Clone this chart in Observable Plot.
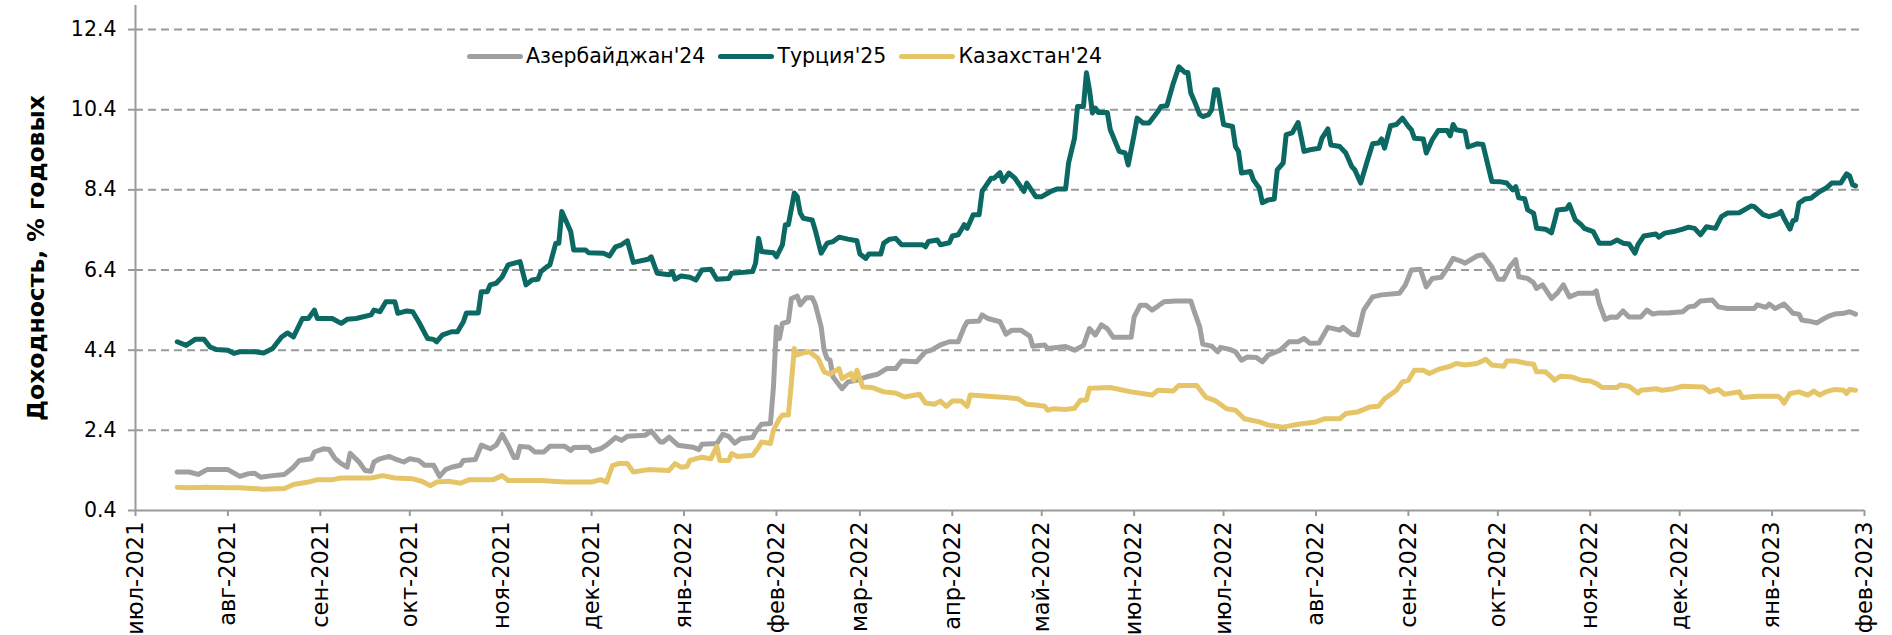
<!DOCTYPE html>
<html>
<head>
<meta charset="utf-8">
<script src="https://cdn.jsdelivr.net/npm/d3@7"></script>
<script src="https://cdn.jsdelivr.net/npm/@observablehq/plot@0.6"></script>
<style>
  html, body { margin: 0; padding: 0; background: #fff; }
  #wrap { position: relative; width: 1892px; height: 635px; font-family: "DejaVu Sans", Verdana, sans-serif; }
  #legend { position: absolute; left: 467px; top: 44px; display: flex; align-items: center; font-size: 20.5px; line-height: 24px; color: #000; white-space: nowrap; }
  .item { display: flex; align-items: center; margin-right: 13px; }
  .sw { width: 56px; height: 5px; border-radius: 3px; margin-right: 3px; }
</style>
</head>
<body>
<div id="wrap"><div id="legend"></div></div>
<script>
// ---- data ----
const seriesNames = ["Азербайджан'24", "Турция'25", "Казахстан'24"];
const yTitle = "Доходность, % годовых";
const monthNames = ["янв","фев","мар","апр","май","июн","июл","авг","сен","окт","ноя","дек"];
const yTicks = [0.4, 2.4, 4.4, 6.4, 8.4, 10.4, 12.4];
const xStart = "2021-07-01", xEnd = "2023-02-01";

const azerbaijan24 = [
["2021-07-15",1.36],["2021-07-19",1.36],["2021-07-22",1.30],["2021-07-25",1.42],["2021-08-01",1.42],["2021-08-05",1.25],["2021-08-08",1.32],["2021-08-10",1.33],["2021-08-12",1.23],["2021-08-16",1.27],["2021-08-20",1.30],["2021-08-23",1.48],["2021-08-25",1.65],["2021-08-29",1.69],["2021-08-30",1.86],["2021-09-02",1.94],["2021-09-04",1.92],["2021-09-06",1.69],["2021-09-08",1.57],["2021-09-10",1.48],["2021-09-11",1.83],["2021-09-14",1.61],["2021-09-16",1.40],["2021-09-18",1.38],["2021-09-19",1.61],["2021-09-21",1.69],["2021-09-24",1.75],["2021-09-26",1.69],["2021-09-29",1.61],["2021-10-01",1.69],["2021-10-04",1.65],["2021-10-06",1.53],["2021-10-09",1.53],["2021-10-11",1.25],["2021-10-13",1.42],["2021-10-15",1.48],["2021-10-18",1.53],["2021-10-19",1.65],["2021-10-23",1.67],["2021-10-25",2.03],["2021-10-28",1.94],["2021-10-30",2.03],["2021-11-01",2.30],["2021-11-03",2.03],["2021-11-05",1.72],["2021-11-06",1.72],["2021-11-07",2.00],["2021-11-10",1.98],["2021-11-12",1.86],["2021-11-15",1.86],["2021-11-17",2.00],["2021-11-22",2.00],["2021-11-24",1.90],["2021-11-25",1.97],["2021-11-30",1.98],["2021-12-01",1.88],["2021-12-04",1.94],["2021-12-06",2.03],["2021-12-09",2.22],["2021-12-11",2.15],["2021-12-13",2.25],["2021-12-19",2.28],["2021-12-21",2.38],["2021-12-24",2.11],["2021-12-25",2.11],["2021-12-27",2.23],["2021-12-30",2.03],["2022-01-04",1.98],["2022-01-06",1.92],["2022-01-07",2.05],["2022-01-12",2.07],["2022-01-14",2.30],["2022-01-16",2.25],["2022-01-18",2.08],["2022-01-20",2.19],["2022-01-24",2.22],["2022-01-25",2.36],["2022-01-27",2.55],["2022-01-30",2.57],["2022-01-31",3.48],["2022-02-01",4.98],["2022-02-02",4.69],["2022-02-03",5.07],["2022-02-05",5.11],["2022-02-06",5.69],["2022-02-08",5.75],["2022-02-09",5.53],["2022-02-11",5.71],["2022-02-13",5.71],["2022-02-14",5.55],["2022-02-16",4.98],["2022-02-17",4.40],["2022-02-18",4.19],["2022-02-19",4.15],["2022-02-20",3.73],["2022-02-23",3.44],["2022-02-25",3.61],["2022-02-28",3.65],["2022-03-03",3.73],["2022-03-07",3.80],["2022-03-10",3.94],["2022-03-13",3.94],["2022-03-15",4.13],["2022-03-20",4.11],["2022-03-23",4.36],["2022-03-25",4.40],["2022-03-28",4.53],["2022-03-31",4.61],["2022-04-03",4.61],["2022-04-05",4.98],["2022-04-06",5.11],["2022-04-10",5.13],["2022-04-11",5.28],["2022-04-13",5.19],["2022-04-17",5.11],["2022-04-19",4.80],["2022-04-21",4.90],["2022-04-24",4.90],["2022-04-27",4.75],["2022-04-28",4.50],["2022-05-02",4.53],["2022-05-03",4.44],["2022-05-09",4.49],["2022-05-12",4.40],["2022-05-15",4.52],["2022-05-17",4.94],["2022-05-19",4.78],["2022-05-21",5.03],["2022-05-23",4.94],["2022-05-25",4.72],["2022-05-31",4.72],["2022-06-01",5.23],["2022-06-03",5.52],["2022-06-05",5.52],["2022-06-07",5.40],["2022-06-09",5.50],["2022-06-11",5.61],["2022-06-15",5.63],["2022-06-20",5.63],["2022-06-21",5.40],["2022-06-23",4.98],["2022-06-24",4.55],["2022-06-27",4.50],["2022-06-29",4.36],["2022-06-30",4.47],["2022-07-03",4.42],["2022-07-05",4.36],["2022-07-07",4.15],["2022-07-09",4.23],["2022-07-12",4.22],["2022-07-14",4.11],["2022-07-16",4.28],["2022-07-20",4.40],["2022-07-23",4.61],["2022-07-26",4.61],["2022-07-28",4.69],["2022-07-30",4.57],["2022-08-02",4.58],["2022-08-05",4.97],["2022-08-09",4.90],["2022-08-10",4.97],["2022-08-13",4.80],["2022-08-15",4.78],["2022-08-17",5.40],["2022-08-20",5.73],["2022-08-23",5.78],["2022-08-29",5.82],["2022-08-31",6.03],["2022-09-02",6.40],["2022-09-05",6.42],["2022-09-07",5.98],["2022-09-09",6.19],["2022-09-12",6.22],["2022-09-14",6.44],["2022-09-16",6.69],["2022-09-19",6.61],["2022-09-20",6.57],["2022-09-24",6.75],["2022-09-26",6.78],["2022-09-29",6.48],["2022-10-01",6.17],["2022-10-03",6.17],["2022-10-05",6.48],["2022-10-07",6.66],["2022-10-08",6.23],["2022-10-11",6.19],["2022-10-13",6.08],["2022-10-14",5.94],["2022-10-16",6.03],["2022-10-19",5.69],["2022-10-21",5.83],["2022-10-23",6.03],["2022-10-25",5.73],["2022-10-28",5.82],["2022-11-02",5.82],["2022-11-03",5.88],["2022-11-04",5.57],["2022-11-06",5.17],["2022-11-08",5.23],["2022-11-10",5.22],["2022-11-12",5.38],["2022-11-14",5.23],["2022-11-18",5.23],["2022-11-20",5.40],["2022-11-22",5.30],["2022-11-24",5.33],["2022-11-27",5.33],["2022-12-02",5.36],["2022-12-04",5.48],["2022-12-06",5.50],["2022-12-08",5.63],["2022-12-12",5.65],["2022-12-14",5.48],["2022-12-17",5.44],["2022-12-26",5.44],["2022-12-27",5.53],["2022-12-30",5.47],["2022-12-31",5.55],["2023-01-02",5.44],["2023-01-05",5.55],["2023-01-07",5.40],["2023-01-08",5.32],["2023-01-10",5.30],["2023-01-11",5.15],["2023-01-13",5.13],["2023-01-16",5.08],["2023-01-18",5.17],["2023-01-20",5.25],["2023-01-22",5.30],["2023-01-25",5.32],["2023-01-27",5.36],["2023-01-29",5.30]
];

const turkey25 = [
["2021-07-15",4.61],["2021-07-18",4.52],["2021-07-21",4.67],["2021-07-24",4.67],["2021-07-26",4.48],["2021-07-28",4.42],["2021-08-01",4.40],["2021-08-03",4.32],["2021-08-05",4.36],["2021-08-10",4.36],["2021-08-13",4.33],["2021-08-16",4.44],["2021-08-19",4.73],["2021-08-21",4.83],["2021-08-23",4.73],["2021-08-26",5.19],["2021-08-28",5.19],["2021-08-30",5.40],["2021-08-31",5.19],["2021-09-05",5.19],["2021-09-08",5.07],["2021-09-10",5.17],["2021-09-13",5.19],["2021-09-18",5.28],["2021-09-19",5.40],["2021-09-21",5.36],["2021-09-23",5.61],["2021-09-26",5.61],["2021-09-27",5.32],["2021-09-30",5.38],["2021-10-02",5.36],["2021-10-04",5.11],["2021-10-07",4.69],["2021-10-09",4.67],["2021-10-10",4.61],["2021-10-12",4.78],["2021-10-15",4.86],["2021-10-17",4.86],["2021-10-19",5.11],["2021-10-20",5.33],["2021-10-24",5.33],["2021-10-25",5.86],["2021-10-27",5.86],["2021-10-28",6.03],["2021-10-30",6.07],["2021-11-01",6.23],["2021-11-03",6.53],["2021-11-07",6.61],["2021-11-09",6.03],["2021-11-11",6.15],["2021-11-13",6.17],["2021-11-14",6.36],["2021-11-16",6.48],["2021-11-17",6.53],["2021-11-19",7.07],["2021-11-20",7.07],["2021-11-21",7.86],["2021-11-24",7.36],["2021-11-25",6.90],["2021-11-29",6.90],["2021-11-30",6.83],["2021-12-05",6.82],["2021-12-07",6.75],["2021-12-09",6.98],["2021-12-11",7.03],["2021-12-13",7.13],["2021-12-15",6.59],["2021-12-20",6.67],["2021-12-21",6.73],["2021-12-23",6.32],["2021-12-27",6.28],["2021-12-28",6.36],["2021-12-29",6.17],["2021-12-31",6.25],["2022-01-03",6.22],["2022-01-05",6.15],["2022-01-07",6.40],["2022-01-10",6.42],["2022-01-12",6.17],["2022-01-16",6.19],["2022-01-17",6.32],["2022-01-24",6.36],["2022-01-25",6.57],["2022-01-26",7.19],["2022-01-27",6.86],["2022-01-31",6.83],["2022-02-01",6.73],["2022-02-03",7.03],["2022-02-04",7.53],["2022-02-05",7.53],["2022-02-07",8.32],["2022-02-08",8.23],["2022-02-09",7.82],["2022-02-10",7.69],["2022-02-13",7.65],["2022-02-14",7.40],["2022-02-16",6.82],["2022-02-18",7.07],["2022-02-20",7.11],["2022-02-22",7.22],["2022-02-25",7.17],["2022-02-28",7.13],["2022-03-01",6.80],["2022-03-03",6.69],["2022-03-04",6.80],["2022-03-08",6.80],["2022-03-09",7.07],["2022-03-11",7.17],["2022-03-13",7.19],["2022-03-15",7.03],["2022-03-22",7.03],["2022-03-23",6.98],["2022-03-24",7.11],["2022-03-27",7.15],["2022-03-28",7.03],["2022-03-31",7.08],["2022-04-01",7.25],["2022-04-03",7.28],["2022-04-05",7.53],["2022-04-06",7.44],["2022-04-08",7.78],["2022-04-10",7.78],["2022-04-11",8.36],["2022-04-14",8.69],["2022-04-15",8.69],["2022-04-17",8.83],["2022-04-18",8.61],["2022-04-20",8.82],["2022-04-22",8.69],["2022-04-25",8.36],["2022-04-26",8.57],["2022-04-29",8.23],["2022-05-01",8.23],["2022-05-04",8.36],["2022-05-06",8.42],["2022-05-09",8.42],["2022-05-10",9.07],["2022-05-12",9.69],["2022-05-13",10.48],["2022-05-15",10.48],["2022-05-16",11.32],["2022-05-17",10.90],["2022-05-18",10.32],["2022-05-19",10.44],["2022-05-20",10.33],["2022-05-23",10.33],["2022-05-24",9.90],["2022-05-27",9.36],["2022-05-29",9.32],["2022-05-30",9.02],["2022-06-01",9.78],["2022-06-02",10.19],["2022-06-04",10.07],["2022-06-06",10.07],["2022-06-09",10.36],["2022-06-10",10.48],["2022-06-12",10.50],["2022-06-14",11.03],["2022-06-16",11.47],["2022-06-18",11.33],["2022-06-19",11.33],["2022-06-20",10.82],["2022-06-21",10.65],["2022-06-23",10.28],["2022-06-24",10.23],["2022-06-26",10.28],["2022-06-27",10.40],["2022-06-28",10.90],["2022-06-29",10.90],["2022-07-01",10.03],["2022-07-04",9.98],["2022-07-05",9.48],["2022-07-06",9.36],["2022-07-07",8.82],["2022-07-10",8.86],["2022-07-11",8.65],["2022-07-13",8.44],["2022-07-14",8.08],["2022-07-16",8.15],["2022-07-18",8.17],["2022-07-19",8.90],["2022-07-21",9.07],["2022-07-22",9.78],["2022-07-24",9.82],["2022-07-26",10.08],["2022-07-27",9.73],["2022-07-28",9.36],["2022-07-30",9.40],["2022-08-02",9.44],["2022-08-03",9.69],["2022-08-05",9.92],["2022-08-06",9.52],["2022-08-09",9.48],["2022-08-11",9.32],["2022-08-13",8.98],["2022-08-14",8.90],["2022-08-16",8.57],["2022-08-18",9.07],["2022-08-20",9.55],["2022-08-22",9.57],["2022-08-23",9.67],["2022-08-24",9.44],["2022-08-26",10.00],["2022-08-28",10.03],["2022-08-30",10.19],["2022-09-01",9.98],["2022-09-02",9.90],["2022-09-03",9.69],["2022-09-06",9.67],["2022-09-07",9.32],["2022-09-09",9.65],["2022-09-11",9.88],["2022-09-14",9.88],["2022-09-15",9.75],["2022-09-16",10.03],["2022-09-17",9.90],["2022-09-20",9.86],["2022-09-21",9.47],["2022-09-24",9.55],["2022-09-26",9.53],["2022-09-29",8.61],["2022-10-02",8.60],["2022-10-04",8.57],["2022-10-06",8.40],["2022-10-07",8.48],["2022-10-08",8.20],["2022-10-10",8.18],["2022-10-11",7.90],["2022-10-13",7.82],["2022-10-14",7.44],["2022-10-17",7.42],["2022-10-19",7.33],["2022-10-20",7.61],["2022-10-21",7.90],["2022-10-24",7.92],["2022-10-25",8.03],["2022-10-27",7.65],["2022-10-29",7.53],["2022-10-30",7.44],["2022-11-02",7.36],["2022-11-04",7.07],["2022-11-08",7.07],["2022-11-10",7.15],["2022-11-12",7.07],["2022-11-14",7.05],["2022-11-16",6.82],["2022-11-17",7.03],["2022-11-19",7.25],["2022-11-23",7.30],["2022-11-24",7.22],["2022-11-26",7.32],["2022-11-29",7.36],["2022-12-02",7.42],["2022-12-04",7.47],["2022-12-06",7.44],["2022-12-08",7.28],["2022-12-10",7.48],["2022-12-13",7.44],["2022-12-15",7.73],["2022-12-17",7.82],["2022-12-21",7.83],["2022-12-25",8.00],["2022-12-26",7.98],["2022-12-29",7.78],["2022-12-31",7.73],["2023-01-03",7.80],["2023-01-04",7.86],["2023-01-05",7.69],["2023-01-07",7.42],["2023-01-08",7.63],["2023-01-09",7.65],["2023-01-10",8.07],["2023-01-12",8.17],["2023-01-14",8.19],["2023-01-17",8.36],["2023-01-19",8.44],["2023-01-21",8.57],["2023-01-24",8.57],["2023-01-26",8.80],["2023-01-27",8.75],["2023-01-28",8.53],["2023-01-29",8.50]
];

const kazakhstan24 = [
["2021-07-15",0.98],["2021-07-19",0.97],["2021-07-25",0.98],["2021-08-01",0.97],["2021-08-05",0.97],["2021-08-13",0.93],["2021-08-20",0.95],["2021-08-23",1.05],["2021-08-28",1.11],["2021-08-31",1.17],["2021-09-05",1.17],["2021-09-08",1.21],["2021-09-18",1.21],["2021-09-22",1.27],["2021-09-26",1.21],["2021-10-02",1.19],["2021-10-05",1.13],["2021-10-08",1.02],["2021-10-10",1.11],["2021-10-14",1.13],["2021-10-18",1.08],["2021-10-21",1.17],["2021-10-29",1.17],["2021-11-01",1.27],["2021-11-03",1.15],["2021-11-14",1.15],["2021-11-22",1.11],["2021-12-01",1.11],["2021-12-04",1.17],["2021-12-06",1.11],["2021-12-08",1.52],["2021-12-10",1.57],["2021-12-13",1.57],["2021-12-15",1.36],["2021-12-20",1.42],["2021-12-27",1.40],["2021-12-29",1.57],["2021-12-31",1.48],["2022-01-02",1.50],["2022-01-03",1.65],["2022-01-07",1.73],["2022-01-10",1.69],["2022-01-12",2.00],["2022-01-13",1.65],["2022-01-16",1.65],["2022-01-17",1.82],["2022-01-19",1.75],["2022-01-24",1.78],["2022-01-26",1.98],["2022-01-27",2.11],["2022-01-30",2.07],["2022-01-31",2.40],["2022-02-02",2.69],["2022-02-03",2.78],["2022-02-05",2.78],["2022-02-06",3.57],["2022-02-07",4.44],["2022-02-08",4.28],["2022-02-10",4.33],["2022-02-12",4.36],["2022-02-15",4.19],["2022-02-17",3.86],["2022-02-19",3.80],["2022-02-22",3.94],["2022-02-23",3.69],["2022-02-26",3.82],["2022-02-27",3.65],["2022-02-28",3.90],["2022-03-02",3.48],["2022-03-05",3.47],["2022-03-09",3.36],["2022-03-13",3.33],["2022-03-16",3.23],["2022-03-21",3.30],["2022-03-23",3.08],["2022-03-26",3.05],["2022-03-28",3.13],["2022-03-30",3.00],["2022-04-01",3.13],["2022-04-04",3.13],["2022-04-06",3.00],["2022-04-07",3.28],["2022-04-13",3.25],["2022-04-19",3.22],["2022-04-23",3.19],["2022-04-26",3.05],["2022-04-29",3.03],["2022-05-02",3.00],["2022-05-03",2.90],["2022-05-05",2.94],["2022-05-09",2.92],["2022-05-12",2.95],["2022-05-14",3.15],["2022-05-16",3.16],["2022-05-17",3.45],["2022-05-24",3.47],["2022-05-31",3.36],["2022-06-07",3.28],["2022-06-09",3.40],["2022-06-14",3.38],["2022-06-16",3.52],["2022-06-22",3.52],["2022-06-25",3.23],["2022-06-28",3.15],["2022-07-02",2.94],["2022-07-05",2.90],["2022-07-08",2.69],["2022-07-13",2.61],["2022-07-16",2.53],["2022-07-21",2.48],["2022-07-26",2.55],["2022-08-01",2.61],["2022-08-04",2.69],["2022-08-09",2.69],["2022-08-11",2.82],["2022-08-15",2.86],["2022-08-19",2.98],["2022-08-22",3.00],["2022-08-24",3.19],["2022-08-28",3.40],["2022-08-30",3.61],["2022-09-01",3.65],["2022-09-03",3.90],["2022-09-06",3.90],["2022-09-08",3.82],["2022-09-11",3.92],["2022-09-15",4.00],["2022-09-17",4.07],["2022-09-20",4.03],["2022-09-24",4.07],["2022-09-27",4.17],["2022-09-29",4.03],["2022-10-03",4.00],["2022-10-04",4.13],["2022-10-07",4.13],["2022-10-10",4.08],["2022-10-13",4.05],["2022-10-14",3.86],["2022-10-17",3.86],["2022-10-19",3.73],["2022-10-20",3.65],["2022-10-22",3.75],["2022-10-26",3.73],["2022-10-29",3.65],["2022-11-01",3.63],["2022-11-03",3.57],["2022-11-05",3.47],["2022-11-10",3.47],["2022-11-11",3.53],["2022-11-14",3.50],["2022-11-17",3.33],["2022-11-18",3.40],["2022-11-23",3.44],["2022-11-25",3.40],["2022-11-29",3.44],["2022-12-02",3.50],["2022-12-09",3.48],["2022-12-11",3.36],["2022-12-14",3.42],["2022-12-16",3.30],["2022-12-21",3.36],["2022-12-22",3.22],["2022-12-27",3.25],["2023-01-03",3.25],["2023-01-04",3.19],["2023-01-05",3.08],["2023-01-07",3.32],["2023-01-10",3.36],["2023-01-13",3.28],["2023-01-15",3.38],["2023-01-17",3.28],["2023-01-19",3.36],["2023-01-22",3.42],["2023-01-25",3.40],["2023-01-26",3.32],["2023-01-27",3.42],["2023-01-29",3.40]
];

// ---- styling ----
const colors = ["#a0a0a0", "#0b6862", "#e5c568"];
const gridColor = "#9a9a9a";

const seriesData = [azerbaijan24, turkey25, kazakhstan24];
const rows = seriesData.flatMap((arr, i) => arr.map(([d, v]) => ({date: new Date(d), value: v, name: seriesNames[i]})));

const x0 = new Date(xStart), x1 = new Date(xEnd);
const monthTicks = d3.utcMonth.range(x0, d3.utcDay.offset(x1, 1));

const chart = Plot.plot({
  width: 1892,
  height: 635,
  marginLeft: 135,
  marginRight: 28,
  marginTop: 5,
  marginBottom: 125,
  style: {fontFamily: "DejaVu Sans, Verdana, sans-serif", fontSize: "20px", color: "#000", background: "transparent"},
  x: {type: "utc", domain: [x0, x1]},
  y: {domain: [0.4, 13.0]},
  color: {domain: seriesNames, range: colors},
  marks: [
    Plot.gridY(yTicks.slice(1), {stroke: gridColor, strokeOpacity: 1, strokeWidth: 2, strokeDasharray: "8,5"}),
    Plot.ruleX([x0], {stroke: gridColor, strokeWidth: 2}),
    Plot.ruleY([0.4], {stroke: gridColor, strokeWidth: 2}),
    Plot.axisY({ticks: yTicks, tickSize: 7, tickPadding: 12, tickFormat: d => d.toFixed(1), stroke: gridColor, strokeWidth: 2, label: null, fontSize: 20.5}),
    Plot.axisX({ticks: monthTicks, tickSize: 6, tickPadding: 5, tickRotate: -90,
      tickFormat: d => monthNames[d.getUTCMonth()] + "-" + d.getUTCFullYear(),
      stroke: gridColor, strokeWidth: 2, label: null, fontSize: 22.5}),
    Plot.line(rows, {x: "date", y: "value", z: "name", stroke: "name", strokeWidth: 5,
      strokeLinejoin: "round", strokeLinecap: "round"}),
    Plot.text([yTitle], {frameAnchor: "left", rotate: -90, dx: -99, fontWeight: "bold", fontSize: 23.5, textAnchor: "middle", fill: "#000"})
  ]
});

const wrap = document.getElementById("wrap");
wrap.insertBefore(chart, wrap.firstChild);

const legend = document.getElementById("legend");
seriesNames.forEach((n, i) => {
  const it = document.createElement("div");
  it.className = "item";
  const sw = document.createElement("div");
  sw.className = "sw";
  sw.style.background = colors[i];
  const t = document.createElement("span");
  t.textContent = n;
  it.appendChild(sw); it.appendChild(t);
  legend.appendChild(it);
});
</script>
</body>
</html>
